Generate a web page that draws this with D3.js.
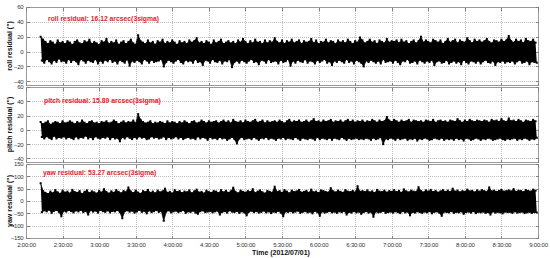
<!DOCTYPE html>
<html>
<head>
<meta charset="utf-8">
<script src="https://cdnjs.cloudflare.com/ajax/libs/d3/7.8.5/d3.min.js"></script>
<style>
  body { margin: 0; background: #fff; }
  svg { display: block; font-family: "Liberation Sans", Arial, sans-serif; }
</style>
</head>
<body>
<svg id="chart" width="550" height="258"></svg>
<script>
// envelope samples of the residuals: first sample at 2:12, one sample every 2 minutes
const startMin = 12;
const stepMin = 2;

const rollHi = [20,16,13,10,14,12,9,15,11,13,10,14,
  12,9,13,15,11,10,14,12,16,10,13,11,
  9,14,12,17,10,13,11,15,9,12,14,10,
  13,16,11,9,22,14,12,10,15,11,13,9,
  14,12,16,10,13,11,15,12,9,14,11,13,
  10,15,12,14,18,11,13,10,14,12,9,15,
  11,13,16,10,12,14,11,13,10,15,12,17,
  13,10,14,11,16,12,13,10,15,11,14,12,
  18,13,11,15,10,14,12,16,11,13,15,10,
  14,12,13,17,11,15,10,13,12,16,11,14,
  13,10,15,12,14,11,16,13,10,14,12,19,
  15,11,13,16,12,14,10,15,13,11,17,12,
  14,13,15,11,16,12,14,10,13,15,11,14,
  20,12,15,13,11,16,14,12,15,10,13,17,
  12,14,16,11,15,13,12,18,14,11,16,13,
  15,12,14,17,13,11,15,14,12,16,13,15,
  21,14,12,16,13,15,11,17,14,13,16,12];
const rollLo = [-12,-15,-10,-13,-16,-11,-14,-9,-13,-12,-15,-10,
  -14,-11,-13,-17,-10,-12,-15,-11,-13,-14,-10,-16,
  -12,-15,-11,-13,-10,-14,-12,-16,-11,-13,-15,-10,
  -19,-12,-14,-11,-13,-16,-10,-12,-15,-11,-14,-13,
  -12,-10,-20,-14,-11,-13,-15,-12,-10,-14,-16,-11,
  -13,-12,-15,-10,-14,-13,-18,-11,-12,-15,-10,-13,
  -14,-11,-16,-12,-13,-10,-21,-14,-12,-15,-11,-13,
  -15,-12,-10,-14,-13,-17,-11,-12,-15,-10,-14,-13,
  -12,-16,-11,-14,-13,-10,-19,-12,-15,-11,-13,-14,
  -10,-15,-12,-13,-16,-11,-14,-12,-10,-15,-13,-18,
  -12,-14,-11,-13,-15,-10,-14,-12,-16,-11,-13,-15,
  -20,-12,-14,-11,-13,-15,-12,-16,-10,-14,-13,-12,
  -15,-11,-14,-17,-12,-13,-10,-15,-14,-12,-16,-11,
  -13,-15,-12,-14,-11,-18,-13,-12,-15,-14,-11,-16,
  -14,-12,-15,-13,-17,-11,-14,-16,-12,-13,-15,-12,
  -16,-13,-11,-14,-15,-12,-18,-13,-14,-12,-15,-13,
  -14,-12,-16,-13,-11,-15,-14,-12,-17,-13,-14,-15];

const pitchHi = [11,8,10,12,7,9,11,10,8,12,9,10,
  12,10,8,11,9,13,10,8,11,12,9,10,
  8,11,10,12,9,10,13,11,8,10,12,9,
  11,10,13,9,22,14,11,9,10,12,8,10,
  9,11,10,8,12,9,11,10,8,11,9,12,
  10,8,11,12,9,10,13,11,9,12,10,11,
  12,9,11,13,10,12,9,14,11,10,12,9,
  13,11,10,12,14,10,11,13,9,12,10,11,
  12,10,13,11,9,12,14,10,12,11,13,10,
  11,13,10,12,15,11,12,10,13,11,12,14,
  10,12,11,13,10,12,14,11,13,10,12,11,
  13,10,12,11,14,12,10,13,11,12,18,13,
  11,14,12,10,13,11,12,14,10,13,12,11,
  12,10,13,12,11,14,10,12,13,11,12,10,
  13,12,11,15,12,10,13,11,14,12,11,13,
  12,11,13,12,10,14,12,13,11,15,12,11,
  16,12,13,11,14,12,10,13,12,11,14,12];
const pitchLo = [-10,-12,-9,-11,-13,-8,-12,-10,-11,-9,-12,-10,
  -11,-13,-9,-12,-10,-11,-8,-12,-10,-13,-9,-11,
  -12,-10,-11,-9,-13,-10,-12,-11,-16,-10,-12,-9,
  -11,-13,-10,-12,-9,-11,-10,-13,-12,-9,-11,-10,
  -12,-11,-9,-13,-10,-12,-11,-9,-12,-10,-13,-11,
  -10,-12,-11,-13,-9,-12,-10,-11,-14,-10,-12,-11,
  -13,-10,-12,-11,-14,-12,-10,-13,-19,-12,-10,-13,
  -12,-11,-13,-10,-12,-14,-11,-12,-10,-13,-11,-12,
  -14,-11,-12,-10,-13,-11,-12,-13,-10,-12,-14,-11,
  -12,-13,-11,-12,-14,-10,-13,-11,-12,-13,-11,-14,
  -11,-12,-13,-10,-12,-14,-11,-13,-12,-11,-13,-12,
  -13,-11,-12,-14,-11,-13,-12,-10,-20,-12,-13,-11,
  -12,-14,-11,-13,-12,-11,-14,-12,-13,-11,-15,-12,
  -13,-11,-12,-14,-13,-11,-12,-13,-11,-14,-12,-13,
  -12,-14,-11,-13,-12,-15,-11,-12,-14,-13,-11,-12,
  -14,-12,-13,-11,-12,-14,-13,-12,-11,-13,-14,-12,
  -13,-12,-11,-14,-12,-13,-11,-12,-14,-12,-13,-11];

const yawHi = [72,40,33,28,38,31,44,35,29,42,34,38,
  30,45,36,33,40,28,37,43,32,39,35,30,
  41,34,48,36,30,39,33,44,37,31,40,35,
  55,38,32,42,34,29,40,36,45,33,38,31,
  42,35,39,50,33,37,30,44,36,40,32,38,
  35,43,31,39,46,34,37,30,42,36,33,40,
  38,32,44,35,41,33,39,54,36,31,42,37,
  34,40,36,48,32,38,43,35,30,41,37,33,
  58,36,40,33,44,38,31,42,36,39,45,34,
  37,41,33,46,35,38,32,43,40,36,34,52,
  39,35,42,37,33,44,38,36,41,34,60,37,
  40,36,43,35,39,32,45,38,36,42,34,40,
  37,44,36,41,33,47,39,35,42,38,36,56,
  40,35,43,38,45,36,41,34,39,44,37,42,
  36,50,38,42,35,40,37,46,39,41,35,43,
  38,44,40,36,55,39,42,37,41,45,38,40,
  43,39,48,37,42,40,36,44,41,38,46,42];
const yawLo = [-45,-38,-42,-35,-48,-40,-36,-44,-62,-39,-43,-37,
  -41,-46,-38,-42,-36,-45,-40,-55,-37,-43,-39,-47,
  -36,-41,-44,-38,-46,-40,-42,-37,-45,-70,-41,-38,
  -43,-39,-47,-42,-36,-44,-40,-50,-38,-45,-41,-37,
  -44,-40,-80,-43,-38,-46,-42,-39,-45,-41,-37,-48,
  -42,-44,-39,-47,-52,-41,-38,-45,-43,-40,-46,-42,
  -39,-55,-44,-41,-47,-38,-43,-45,-40,-48,-42,-46,
  -58,-43,-40,-45,-41,-47,-44,-39,-46,-42,-49,-43,
  -45,-40,-47,-62,-42,-44,-41,-46,-43,-39,-48,-44,
  -41,-46,-43,-50,-40,-45,-60,-42,-47,-44,-41,-46,
  -43,-48,-42,-45,-40,-55,-44,-47,-41,-46,-43,-52,
  -45,-41,-47,-43,-64,-42,-46,-44,-40,-48,-45,-43,
  -47,-42,-45,-49,-41,-46,-43,-58,-44,-47,-42,-45,
  -48,-43,-46,-41,-50,-44,-42,-47,-60,-43,-45,-46,
  -41,-48,-44,-46,-42,-52,-45,-43,-47,-41,-49,-44,
  -46,-43,-48,-45,-55,-42,-47,-44,-46,-50,-43,-45,
  -44,-48,-42,-47,-45,-43,-49,-46,-44,-48,-45,-47];

const panelNames = ["roll", "pitch", "yaw"];
const panelTitles = ["roll residual: 16.12 arcsec(3sigma)", "pitch residual: 15.89 arcsec(3sigma)", "yaw residual: 53.27 arcsec(3sigma)"];
const yDomains = [[-45, 60], [-45, 60], [-150, 150]];
const yTicks = [[-40, -20, 0, 20, 40, 60], [-40, -20, 0, 20, 40, 60], [-150, -100, -50, 0, 50, 100, 150]];
const xTickLabels = ["2:00:00","2:30:00","3:00:00","3:30:00","4:00:00","4:30:00","5:00:00","5:30:00",
  "6:00:00","6:30:00","7:00:00","7:30:00","8:00:00","8:30:00","9:00:00"];

const svg = d3.select("#chart");
const left = 26, right = 538;
const panelBox = [[7, 85], [87, 162], [164, 238]];

// minutes after 2:00:00
const x = d3.scaleLinear().domain([0, 420]).range([left, right]);
const xTicks = xTickLabels.map((s, i) => i * 30);

const series = [[rollHi, rollLo], [pitchHi, pitchLo], [yawHi, yawLo]];

panelNames.forEach(function (name, p) {
  var top = panelBox[p][0], bot = panelBox[p][1];
  var y = d3.scaleLinear().domain(yDomains[p]).range([bot, top]);
  var g = svg.append("g").attr("class", "panel " + name);

  // dotted grid
  g.selectAll("line.vgrid").data(xTicks.slice(1, -1)).join("line")
    .attr("class", "vgrid")
    .attr("x1", d => Math.round(x(d)) + 0.5).attr("x2", d => Math.round(x(d)) + 0.5)
    .attr("y1", top).attr("y2", bot)
    .attr("stroke", "#bdbdbd").attr("stroke-width", 1).attr("stroke-dasharray", "1,1");
  g.selectAll("line.hgrid").data(yTicks[p].filter(t => y(t) > top + 1 && y(t) < bot - 1)).join("line")
    .attr("class", "hgrid")
    .attr("x1", left).attr("x2", right)
    .attr("y1", d => Math.round(y(d)) + 0.5).attr("y2", d => Math.round(y(d)) + 0.5)
    .attr("stroke", "#bdbdbd").attr("stroke-width", 1).attr("stroke-dasharray", "1,1");

  // residual band
  var hi = series[p][0], lo = series[p][1];
  var n = Math.min(hi.length, lo.length);
  var pts = hi.slice(0, n).map((v, i) => ({ t: startMin + i * stepMin, hi: v, lo: lo[i] }));
  var area = d3.area()
    .x1(d => x(d.t)).y1(d => y(d.hi))
    .x0(d => x(d.t + stepMin / 2)).y0(d => y(d.lo));
  g.append("path").datum(pts).attr("d", area).attr("fill", "#000");
  g.append("path").datum(pts)
    .attr("d", d3.line().x(d => x(d.t)).y(d => y(d.hi)))
    .attr("fill", "none").attr("stroke", "#000").attr("stroke-width", 0.8);
  g.append("path").datum(pts)
    .attr("d", d3.line().x(d => x(d.t + stepMin / 2)).y(d => y(d.lo)))
    .attr("fill", "none").attr("stroke", "#000").attr("stroke-width", 0.8);
  g.selectAll("rect.dot").data(pts.flatMap(d => [[d.t, d.hi], [d.t + stepMin / 2, d.lo]])).join("rect")
    .attr("class", "dot")
    .attr("x", d => x(d[0]) - 1).attr("y", d => y(d[1]) - 1)
    .attr("width", 2).attr("height", 2).attr("fill", "#000");

  // frame and inward ticks
  g.append("rect").attr("x", left + 0.5).attr("y", top + 0.5)
    .attr("width", right - left).attr("height", bot - top)
    .attr("fill", "none").attr("stroke", "#9a9a9a").attr("stroke-width", 1);
  var yl = g.append("g").attr("transform", "translate(" + (left + 0.5) + ",0)")
    .call(d3.axisLeft(y).tickValues(yTicks[p]).tickSize(-3).tickPadding(3));
  var yr = g.append("g").attr("transform", "translate(" + (right + 0.5) + ",0)")
    .call(d3.axisRight(y).tickValues(yTicks[p]).tickSize(-3).tickFormat(""));
  var xb = g.append("g").attr("transform", "translate(0," + (bot + 0.5) + ")")
    .call(d3.axisBottom(x).tickValues(xTicks).tickSize(-3).tickPadding(4)
      .tickFormat((d, i) => p === 2 ? xTickLabels[i] : ""));
  var xt = g.append("g").attr("transform", "translate(0," + (top + 0.5) + ")")
    .call(d3.axisTop(x).tickValues(xTicks).tickSize(-3).tickFormat(""));
  [yl, yr, xb, xt].forEach(function (a) {
    a.select(".domain").remove();
    a.selectAll(".tick line").attr("stroke", "#808080").attr("shape-rendering", "crispEdges");
    a.selectAll("text").attr("fill", "#333").style("font-size", "6px")
      .style("letter-spacing", "-0.2px")
      .style("font-family", "'Liberation Sans', Arial, sans-serif");
  });

  // titles
  g.append("text").attr("x", [48, 44, 43][p]).attr("y", [20.5, 102.5, 174.5][p])
    .attr("fill", "#e4222b").style("font-size", "6.8px").style("font-weight", "bold")
    .text(panelTitles[p]);
  g.append("text")
    .attr("transform", "translate(12," + ((top + bot) / 2) + ") rotate(-90)")
    .attr("text-anchor", "middle").attr("fill", "#111")
    .style("font-size", "7px").style("font-weight", "bold")
    .text(name + " residual (\")");
});

svg.append("text").attr("x", 281).attr("y", 254.5).attr("text-anchor", "middle")
  .attr("fill", "#111").style("font-size", "7px").style("font-weight", "bold")
  .text("Time (2012/07/01)");
</script>
</body>
</html>
